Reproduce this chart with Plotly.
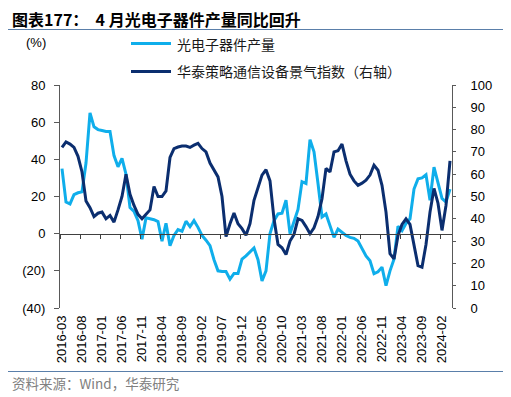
import pandas as pd
import plotly.graph_objects as go

# ---------------- data ----------------
MONTHS = pd.period_range("2016-03", "2024-04", freq="M").strftime("%Y-%m").tolist()

OPTO_OUTPUT_YOY = [35, 17, 16, 21, 22, 22.5, 38, 65, 57.5, 56,
                   55.5, 55, 55, 42, 36, 40.5, 32, 14, 12, 7,
                   -3, 8.5, 8, 7.5, 6.5, -4, 5.6, -6.5, -1, 2.2,
                   1.3, 6.7, 3.8, 7, 3.4, -1, -3.5, -6.5, -14, -20,
                   -20.4, -20.4, -24.5, -21.4, -21.4, -13.7, -11.9, -9.5, -7.7, -14,
                   -25.5, -20, 0, 7, 10.6, 11, 18, 0, 7, 13,
                   28, 27, 50.6, 44, 27, 9, 10.6, 4.3, -2, 2.5,
                   0.7, -1, -2, -2.5, -4, -8.3, -12, -14.6, -21.5, -20.5,
                   -18, -28, -20, -13.7, 4, 1.6, 5.5, 8, 24, 29.5,
                   30, 31.7, 18, 35.8, 27, 19, 17, 24]

TELECOM_INDEX = [72, 74.5, 73.5, 72, 68, 61, 48, 45, 41, 42.5,
                 43, 40, 41.5, 38.5, 44, 50, 60, 51, 46, 42,
                 40, 42, 44, 54.5, 50, 50, 52.5, 67.5, 71.5, 72.2,
                 72.6, 72.6, 72, 73, 73.8, 71.5, 70, 65, 61.8, 58.8,
                 50, 32, 37.8, 42.6, 37.8, 35.6, 32.6, 37.8, 48.3, 54.3,
                 59.6, 62, 57, 40, 28.5, 27, 24, 30, 33, 40,
                 39.3, 36.5, 33.3, 36, 41, 49, 62.6, 61, 70, 70.5,
                 73.5, 66, 60, 57, 55, 56, 57.3, 59.6, 64, 61.8,
                 55, 43, 24.4, 22, 32.5, 37.5, 40, 37.5, 27.5, 19,
                 18.3, 28.5, 43, 53.6, 47, 34.8, 46, 66]

X_TICK_LABELS = ["2016-03", "2016-08", "2017-01", "2017-06", "2017-11", "2018-04",
                 "2018-09", "2019-02", "2019-07", "2019-12", "2020-05", "2020-10",
                 "2021-03", "2021-08", "2022-01", "2022-06", "2022-11", "2023-04",
                 "2023-09", "2024-02"]
LEFT_TICK_VALUES = [80, 60, 40, 20, 0, -20, -40]
LEFT_TICK_TEXT = ["80", "60", "40", "20", "0", "(20)", "(40)"]
RIGHT_TICK_VALUES = [0, 10, 20, 30, 40, 50, 60, 70, 80, 90, 100]

SERIES_NAMES = ["光电子器件产量", "华泰策略通信设备景气指数（右轴）"]
TITLE = "图表177：  4 月光电子器件产量同比回升"
SOURCE = "资料来源：Wind，华泰研究"

# ---------------- layout geometry ----------------
# the page body has an 8px margin; the figure is sized so it fills the window
OFF = 8
W, H = 511 - OFF, 397 - OFF
L, R, T, B = 60 - OFF, 59, 85 - OFF, 89
PW, PH = W - L - R, H - T - B


def px2x(px):
    """window pixel x -> paper coordinate"""
    return (px - OFF - L) / PW


def py2y(py):
    """window pixel y -> paper coordinate"""
    return (H - B - (py - OFF)) / PH


LIGHT = "#0FAEEB"
DARK = "#0B2E6F"
AXIS = "#595959"
RULE = "#5A7FAA"
CJK = "Noto Sans CJK SC"
LAT = "Liberation Sans, Arial"

YMIN, YMAX = -40, 80
zero_pos = (0 - YMIN) / (YMAX - YMIN)

fig = go.Figure()
fig.add_trace(go.Scatter(x=MONTHS, y=OPTO_OUTPUT_YOY, name=SERIES_NAMES[0], mode="lines",
                         line=dict(color=LIGHT, width=3), xaxis="x", yaxis="y"))
fig.add_trace(go.Scatter(x=MONTHS, y=TELECOM_INDEX, name=SERIES_NAMES[1], mode="lines",
                         line=dict(color=DARK, width=3), xaxis="x2", yaxis="y2"))

common_x = dict(type="category", categoryorder="array", categoryarray=MONTHS,
                range=[-0.5, len(MONTHS) - 0.5], showgrid=False, zeroline=False)

fig.update_layout(
    width=W, height=H, margin=dict(l=L, r=R, t=T, b=B, autoexpand=False),
    paper_bgcolor="white", plot_bgcolor="white", showlegend=False,
    font=dict(family=LAT, size=13, color="#000000"),
    xaxis=dict(**common_x, tickmode="array", tickvals=X_TICK_LABELS, ticktext=X_TICK_LABELS,
               tickangle=-90, ticks="", showline=False, ticklabelstandoff=4,
               tickfont=dict(family=LAT, size=13, color="#000000")),
    xaxis2=dict(**common_x, overlaying="x", anchor="free", position=zero_pos,
                showline=True, linecolor="#404040", linewidth=1,
                ticks="outside", ticklen=4, tickcolor="#404040", tickson="boundaries",
                tickmode="linear", tick0=0, dtick=5, showticklabels=False),
    yaxis=dict(range=[YMIN, YMAX], tickmode="array", tickvals=LEFT_TICK_VALUES,
               ticktext=LEFT_TICK_TEXT, showgrid=False, zeroline=False,
               showline=True, linecolor=AXIS, linewidth=1,
               ticks="outside", ticklen=5, tickcolor=AXIS, ticklabelstandoff=6,
               tickfont=dict(family=LAT, size=13, color="#000000")),
    yaxis2=dict(range=[0, 100], tickmode="array", tickvals=RIGHT_TICK_VALUES,
                overlaying="y", side="right", anchor="x2", showgrid=False, zeroline=False,
                showline=True, linecolor=AXIS, linewidth=1,
                ticks="outside", ticklen=3, tickcolor=AXIS, ticklabelstandoff=12,
                tickfont=dict(family=LAT, size=13, color="#000000")),
)

shapes = [
    dict(type="line", xref="paper", yref="paper", x0=px2x(8), x1=px2x(503),
         y0=py2y(29.5), y1=py2y(29.5), line=dict(color=RULE, width=1)),
    dict(type="line", xref="paper", yref="paper", x0=px2x(8), x1=px2x(503),
         y0=py2y(371.5), y1=py2y(371.5), line=dict(color=RULE, width=1)),
    dict(type="line", xref="paper", yref="paper", x0=px2x(131), x1=px2x(171),
         y0=py2y(43.5), y1=py2y(43.5), line=dict(color=LIGHT, width=3)),
    dict(type="line", xref="paper", yref="paper", x0=px2x(131), x1=px2x(171),
         y0=py2y(71.5), y1=py2y(71.5), line=dict(color=DARK, width=3)),
]
annotations = [
    dict(text="<b>" + TITLE + "</b>", xref="paper", yref="paper", x=px2x(10), y=py2y(19),
         xanchor="left", yanchor="middle", showarrow=False,
         font=dict(family=CJK, size=16, color="#000000")),
    dict(text="(%)", xref="paper", yref="paper", x=px2x(48), y=py2y(43),
         xanchor="right", yanchor="middle", showarrow=False,
         font=dict(family=LAT, size=13, color="#000000")),
    dict(text=SERIES_NAMES[0], xref="paper", yref="paper", x=px2x(175), y=py2y(43.5),
         xanchor="left", yanchor="middle", showarrow=False,
         font=dict(family=CJK, size=14, color="#1a1a1a")),
    dict(text=SERIES_NAMES[1], xref="paper", yref="paper", x=px2x(175), y=py2y(71.5),
         xanchor="left", yanchor="middle", showarrow=False,
         font=dict(family=CJK, size=14, color="#1a1a1a")),
    dict(text=SOURCE, xref="paper", yref="paper", x=px2x(10), y=py2y(383),
         xanchor="left", yanchor="middle", showarrow=False,
         font=dict(family=CJK, size=13.5, color="#808080")),
]
fig.update_layout(shapes=shapes, annotations=annotations)

fig.write_html("out.html")
